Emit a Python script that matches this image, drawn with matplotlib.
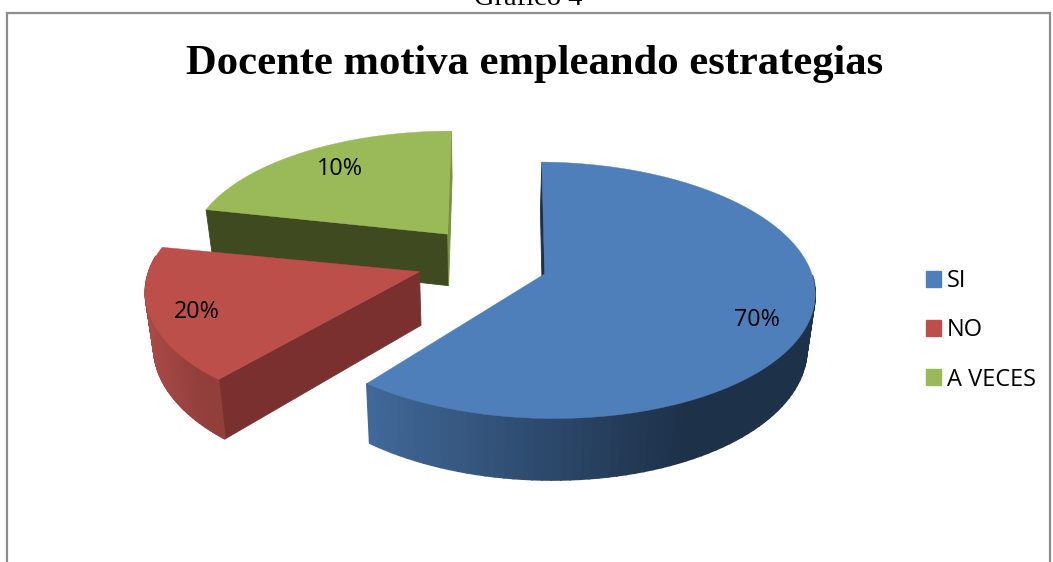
import numpy as np
import matplotlib
matplotlib.use('Agg')
import matplotlib.pyplot as plt
from matplotlib.patches import Patch, Rectangle
from matplotlib.colors import to_rgb

# Data (drawn slice sizes differ from the printed labels)
categories = ['SI', 'NO', 'A VECES']
slice_sizes = [60.7, 18.2, 21.1]
pct_labels = ['70%', '20%', '10%']
top_colors = ['#4f7fbb', '#bd4f4b', '#9aba59']
wall_left = ['#41699a', '#a84a47', '#7a963f']
wall_right = ['#1d3149', '#923f3c', '#7a963f']
start_face = ['#1d3149', '#7a302e', '#404a20']
end_face = [None, None, '#76923c']
nudge_u = [0.008, 0.0, 0.02]
nudge_v = [0.015, 0.0, -0.04]
trim_start = [0.3, 0.5, -0.4]
trim_end = [0.0, 0.75, 0.0]
radius = [0.985, 1.0, 0.98]

# Fake 3D camera, in pixels of the figure
CX, CY = 481, 262
SX, SY = 268, 125
PERSP = 0.128
DEPTH = 53
EXPLODE = 0.24
BOTTOM_SCALE = 0.975


def project(u, v, z=0.0):
    w = 1 / (1 - PERSP * v)
    x = SX * u * w
    y = SY * v * w + DEPTH * z * w
    x = x * (1 - (1 - BOTTOM_SCALE) * z)
    return CX + x, CY + y


def face(ax, us, vs, color, zorder, lw=0.6):
    top_x, top_y = project(us, vs, 0)
    bot_x, bot_y = project(us[::-1], vs[::-1], 1)
    ax.fill(np.r_[top_x, bot_x], np.r_[top_y, bot_y], color=color, lw=lw, zorder=zorder)


fig = plt.figure(figsize=(10.53, 5.62), dpi=100)
ax = fig.add_axes([0, 0, 1, 1])
ax.set_xlim(0, 1053)
ax.set_ylim(562, 0)
ax.axis('off')

# Caption cut off by the chart frame
ax.text(528, 5, 'Gráfico 4', family='Liberation Serif', fontsize=20.5, ha='center',
        va='baseline', zorder=0)
ax.add_patch(Rectangle((6.5, 13), 1043, 600, fc='white', ec='#8c8c8c', lw=1.6, zorder=1))

# Slices, clockwise from the top. Draw from back to front
edges = np.r_[0, np.cumsum(slice_sizes)] / sum(slice_sizes) * 2 * np.pi
pct = 2 * np.pi / 100
order = [2, 1, 0]
for n, i in enumerate(order):
    mid = (edges[i] + edges[i + 1]) / 2
    a0 = edges[i] + trim_start[i] * pct
    a1 = edges[i + 1] - trim_end[i] * pct
    ou = EXPLODE * np.sin(mid) + nudge_u[i]
    ov = -EXPLODE * np.cos(mid) + nudge_v[i]
    base = 10 + n * 5
    angles = np.linspace(a0, a1, 120)
    us = ou + radius[i] * np.sin(angles)
    vs = ov - radius[i] * np.cos(angles)

    # cut faces
    face(ax, np.array([ou, us[0]]), np.array([ov, vs[0]]), start_face[i], base)
    if end_face[i]:
        face(ax, np.array([ou, us[-1]]), np.array([ov, vs[-1]]), end_face[i], base + 1)

    # outer wall, gradient runs left to right on screen
    xs = project(us, vs)[0]
    c0, c1 = np.array(to_rgb(wall_left[i])), np.array(to_rgb(wall_right[i]))
    for k in range(len(angles) - 1):
        if vs[k] + vs[k + 1] < 2 * ov - 0.25 and i != 0:
            continue
        t = np.clip((xs[k] - xs.min()) / (0.72 * (xs.max() - xs.min())), 0, 1)
        if i == 0 and vs[k] < ov:
            continue
        face(ax, us[k:k + 2], vs[k:k + 2], tuple(c0 + (c1 - c0) * t), base + 2, lw=1.2)

    # top
    tx, ty = project(np.r_[ou, us], np.r_[ov, vs])
    ax.fill(tx, ty, color=top_colors[i], lw=0.3, zorder=base + 3)

label_xy = [(757, 320), (197, 312), (340, 169)]
for txt, (x, y) in zip(pct_labels, label_xy):
    ax.text(x, y, txt, family='Open Sans', fontsize=16.8, ha='center', va='center', zorder=40)

ax.text(534.5, 64, 'Docente motiva empleando estrategias', family='Liberation Serif',
        fontweight='bold', fontsize=30.7, ha='center', va='center', zorder=40)

handles = [Patch(color=c, label=l) for c, l in zip(top_colors, categories)]
ax.legend(handles=handles, loc='center left', bbox_to_anchor=(926 / 1053, 1 - 330.5 / 562),
          frameon=False, prop={'family': 'Open Sans', 'size': 17}, handlelength=0.635,
          handleheight=0.635, handletextpad=0.25, labelspacing=1.06, borderpad=0, borderaxespad=0)

plt.savefig('out.png', dpi=100)
